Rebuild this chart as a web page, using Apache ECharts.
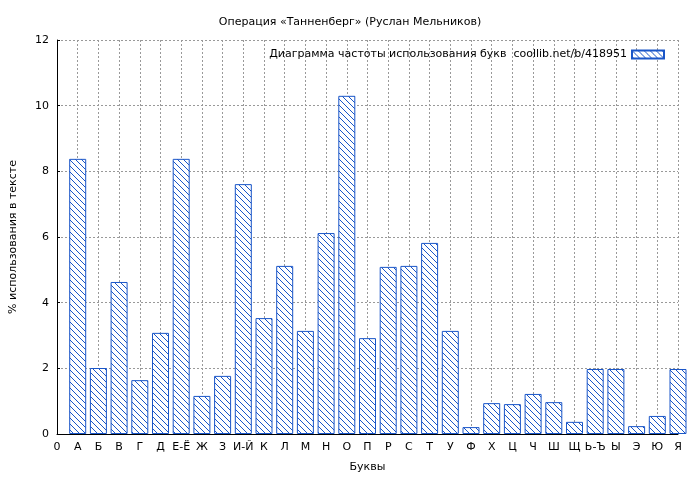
<!DOCTYPE html>
<html><head><meta charset="utf-8">
<script src="https://cdn.jsdelivr.net/npm/echarts@6/dist/echarts.min.js"></script>
<style>html,body{margin:0;background:#fff}#c{width:700px;height:480px}</style>
</head><body><div id="c"></div>
<script>
const categories = ["0","А","Б","В","Г","Д","Е-Ё","Ж","З","И-Й","К","Л","М","Н","О","П","Р","С","Т","У","Ф","Х","Ц","Ч","Ш","Щ","Ь-Ъ","Ы","Э","Ю","Я"];
const values = [null,8.38,2.01,4.63,1.64,3.08,8.38,1.16,1.77,7.61,3.53,5.12,3.14,6.12,10.3,2.92,5.09,5.12,5.82,3.14,0.21,0.94,0.91,1.22,0.97,0.37,1.98,1.98,0.24,0.55,1.98];
const yTicks = [0,2,4,6,8,10,12];

const cv = document.createElement('canvas'); cv.width = 6; cv.height = 6;
const g = cv.getContext('2d');
g.fillStyle = '#fff'; g.fillRect(0,0,6,6);
g.strokeStyle = '#1a56c8'; g.lineWidth = 1;
g.beginPath(); g.moveTo(-1,-1); g.lineTo(7,7); g.moveTo(-1,5); g.lineTo(1,7); g.moveTo(5,-1); g.lineTo(7,1); g.stroke();
const pat = {image: cv, repeat: 'repeat'};

const chart = echarts.init(document.getElementById('c'));
chart.setOption({
  animation: false,
  textStyle: {fontFamily: 'DejaVu Sans', fontSize: 11, color: '#000'},
  title: {text: 'Операция «Танненберг» (Руслан Мельников)', left: 'center', top: 12,
    textStyle: {fontSize: 11, fontWeight: 'normal', color: '#000', fontFamily: 'DejaVu Sans'}},
  legend: {top: 44, right: 30, align: 'right', itemWidth: 32, itemHeight: 8, itemGap: 8,
    textStyle: {fontSize: 11, color: '#000'},
    data: [{name: 'Диаграмма частоты использования букв  coollib.net/b/418951', icon: 'rect'}]},
  grid: {left: 54, right: 22, top: 40, bottom: 46},
  xAxis: {type: 'category', data: categories, boundaryGap: false, name: 'Буквы', nameLocation: 'middle', nameGap: 28,
    axisLine: {lineStyle: {color: '#000'}}, axisTick: {show: true, inside: true, length: 3, lineStyle:{color:'#000'}},
    axisLabel: {color: '#000', fontSize: 11, interval: 0, margin: 8},
    splitLine: {show: true, lineStyle: {color: '#999', type: [2,2]}}},
  yAxis: {type: 'value', min: 0, max: 12, interval: 2, name: '% использования в тексте', nameLocation: 'middle', nameGap: 38,
    axisLine: {show: true, lineStyle: {color: '#000'}}, axisTick: {show: true, inside: true, length: 3, lineStyle:{color:'#000'}},
    axisLabel: {color: '#000', fontSize: 11, formatter: v => yTicks.includes(v) ? String(v) : ''},
    splitLine: {show: true, lineStyle: {color: '#999', type: [2,2]}}},
  series: [{type: 'bar', name: 'Диаграмма частоты использования букв  coollib.net/b/418951', data: values, barWidth: 17, clip: true,
    itemStyle: {color: pat, borderColor: '#1a56c8', borderWidth: 1}}]
});
</script></body></html>
